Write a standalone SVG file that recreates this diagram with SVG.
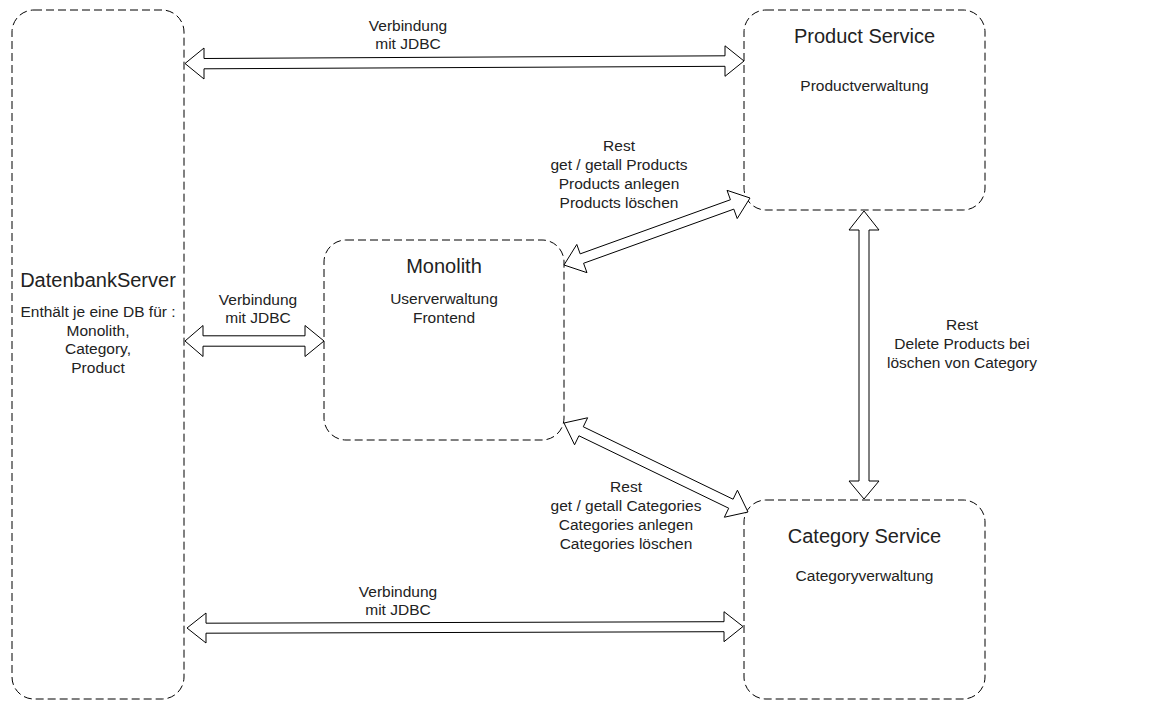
<svg xmlns="http://www.w3.org/2000/svg" width="1152" height="712" viewBox="0 0 1152 712">
<style>
.box{fill:#fff;stroke:#000;stroke-width:1;stroke-dasharray:8 4}
.arr{fill:#fff;stroke:#000;stroke-width:1;stroke-linejoin:miter}
text{font-family:"Liberation Sans",Arial,Helvetica,sans-serif;fill:#222;text-anchor:middle}
.t{font-size:20px}
.s{font-size:15.5px}
</style>
<rect width="1152" height="712" fill="#fff"/>
<g id="db">
<rect class="box" x="12" y="10" width="172" height="689" rx="22" ry="22"/>
<text class="t" x="98" y="287">DatenbankServer</text>
<text class="s" x="98" y="317">Enthält je eine DB für :</text>
<text class="s" x="98" y="335.5">Monolith,</text>
<text class="s" x="98" y="354">Category,</text>
<text class="s" x="98" y="372.5">Product</text>
</g>
<g id="product">
<rect class="box" x="744" y="10" width="241" height="200" rx="22" ry="22"/>
<text class="t" x="864.5" y="43">Product Service</text>
<text class="s" x="864.5" y="91">Productverwaltung</text>
</g>
<g id="monolith">
<rect class="box" x="324" y="240" width="240" height="200" rx="22" ry="22"/>
<text class="t" x="444" y="273">Monolith</text>
<text class="s" x="444" y="304">Userverwaltung</text>
<text class="s" x="444" y="323">Frontend</text>
</g>
<g id="category">
<rect class="box" x="744" y="500" width="241" height="199" rx="22" ry="22"/>
<text class="t" x="864.5" y="543">Category Service</text>
<text class="s" x="864.5" y="581">Categoryverwaltung</text>
</g>
<g id="connectors">
<polygon class="arr" points="185,63.5 204,48 204,58.5 725,55.8 725,45.8 744,61 725,76.3 725,66.3 204,68.8 204,79"/>
<polygon class="arr" points="185,341 203,325.5 203,335.8 305,335.8 305,325.5 324,341 305,356.5 305,346.2 203,346.2 203,356.5"/>
<polygon class="arr" points="187,628 206,613 206,623.2 724,621.7 724,611.7 743,626.5 724,641.7 724,631.7 206,633.2 206,643"/>
<polygon class="arr" points="864,211 849,230 859,230 859,481 849,481 864,499 879,481 869,481 869,230 879,230"/>
<polygon class="arr" points="564,265 586.96,272.67 583.57,263.27 733.82,209.14 737.21,218.55 750,198 727.04,190.33 730.43,199.74 580.18,253.86 576.79,244.45"/>
<polygon class="arr" points="564,423 574.57,444.78 578.93,435.77 728.72,508.23 724.37,517.23 748,512 737.43,490.23 733.08,499.23 583.28,426.77 587.63,417.77"/>
</g>
<g id="labels">
<text class="s" x="408" y="31">Verbindung</text>
<text class="s" x="408" y="49">mit JDBC</text>
<text class="s" x="258" y="305">Verbindung</text>
<text class="s" x="258" y="323">mit JDBC</text>
<text class="s" x="398" y="597">Verbindung</text>
<text class="s" x="398" y="615">mit JDBC</text>
<text class="s" x="619" y="151">Rest</text>
<text class="s" x="619" y="170">get / getall Products</text>
<text class="s" x="619" y="189">Products anlegen</text>
<text class="s" x="619" y="208">Products löschen</text>
<text class="s" x="962" y="330">Rest</text>
<text class="s" x="962" y="349">Delete Products bei</text>
<text class="s" x="962" y="368">löschen von Category</text>
<text class="s" x="626" y="492">Rest</text>
<text class="s" x="626" y="511">get / getall Categories</text>
<text class="s" x="626" y="530">Categories anlegen</text>
<text class="s" x="626" y="549">Categories löschen</text>
</g>
</svg>
